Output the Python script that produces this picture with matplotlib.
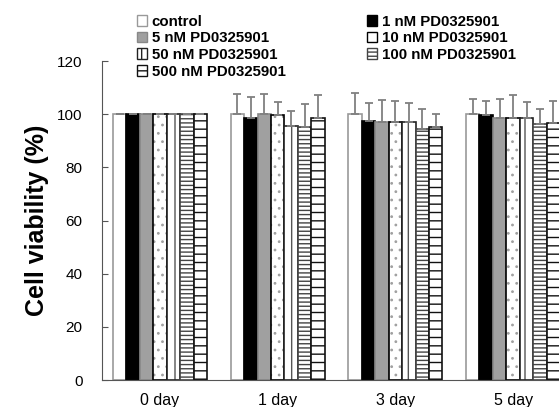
import matplotlib.pyplot as plt
import matplotlib.patches as mpatches
import numpy as np

plt.rcParams['font.family'] = ['Liberation Sans', 'DejaVu Sans']
plt.rcParams['hatch.linewidth'] = 1.0

days = ['0 day', '1 day', '3 day', '5 day']
groups = ['control', '1 nM PD0325901', '5 nM PD0325901', '10 nM PD0325901',
          '50 nM PD0325901', '100 nM PD0325901', '500 nM PD0325901']

# mean viability (%) per group, one value per day
control = [100, 100, 99.9, 99.9]
nm1 = [100, 98.7, 97.4, 99.6]
nm5 = [100, 100, 96.9, 98.4]
nm10 = [100, 99.6, 97.2, 98.7]
nm50 = [100, 95.7, 97.2, 98.7]
nm100 = [100, 95.2, 94.5, 96.5]
nm500 = [100, 98.6, 95.2, 96.7]

# upper error (SD)
err_control = [0, 7.5, 8.1, 5.8]
err_nm1 = [0, 7.8, 6.9, 5.3]
err_nm5 = [0, 7.5, 8.5, 7.5]
err_nm10 = [0, 4.9, 7.7, 8.5]
err_nm50 = [0, 5.4, 7.2, 5.8]
err_nm100 = [0, 8.6, 7.6, 5.6]
err_nm500 = [0, 8.6, 4.9, 8.2]

means = [control, nm1, nm5, nm10, nm50, nm100, nm500]
errs = [err_control, err_nm1, err_nm5, err_nm10, err_nm50, err_nm100, err_nm500]

# (face, edge, hatch, hatch colour)
styles = [
    ('white', '#999999', None, None),
    ('black', 'black', None, None),
    ('#a0a0a0', '#888888', None, None),
    ('white', 'black', '..', '#a0a0a0'),
    ('white', '#222222', '|', '#555555'),
    ('white', '#444444', '----', '#444444'),
    ('white', '#111111', '--', '#111111'),
]

fig = plt.figure(figsize=(5.59, 4.07), dpi=100)
ax = fig.add_axes([0.1825, 0.066, 0.8175, 0.784])

x = np.arange(len(days))
width = 0.8 / len(groups)
handles = []
for i, (m, e, (fc, ec, hatch, hc)) in enumerate(zip(means, errs, styles)):
    pos = x - 0.4 + width * (i + 0.5)
    if hatch:
        with plt.rc_context({'hatch.linewidth': 0.8 if hatch == '..' else 1.0}):
            ax.bar(pos, m, width, facecolor=fc, edgecolor=hc, hatch=hatch,
                   linewidth=0)
        ax.bar(pos, m, width, facecolor='none', edgecolor=ec, linewidth=1.2)
    else:
        ax.bar(pos, m, width, facecolor=fc, edgecolor=ec, linewidth=1.2)
    ax.errorbar(pos, m, yerr=[np.zeros(len(e)), e], fmt='none',
                ecolor='#808080', elinewidth=1.3, capsize=3, capthick=1.3)
    leg_hatch = None if hatch == '..' else hatch
    handles.append(mpatches.Patch(facecolor=fc, edgecolor=ec, hatch=leg_hatch,
                                  linewidth=1.0, label=groups[i]))

ax.set_xlim(-0.493, 3.39)
ax.set_ylim(0, 120)
ax.set_yticks(np.arange(0, 121, 20))
ax.set_xticks(x)
ax.set_xticklabels(days, fontsize=11.5)
ax.tick_params(axis='x', length=0, pad=9)
ax.tick_params(axis='y', direction='in', length=4, labelsize=11, pad=14,
               color='#555555')
for s in ['top', 'right']:
    ax.spines[s].set_visible(False)
for s in ['left', 'bottom']:
    ax.spines[s].set_color('#555555')
ax.set_ylabel('Cell viability (%)', fontsize=18, fontweight='bold', labelpad=6)

order = [0, 2, 4, 6, 1, 3, 5]
leg = fig.legend([handles[k] for k in order], [groups[k] for k in order],
                 loc='upper left', bbox_to_anchor=(0.226, 0.99), ncol=2,
                 frameon=False, fontsize=10.8, handlelength=0.7,
                 handleheight=0.7, handletextpad=0.3, labelspacing=0.18,
                 columnspacing=5.4, borderaxespad=0.3)
for t in leg.get_texts():
    t.set_fontweight('bold')

fig.savefig('out.png', dpi=100)
